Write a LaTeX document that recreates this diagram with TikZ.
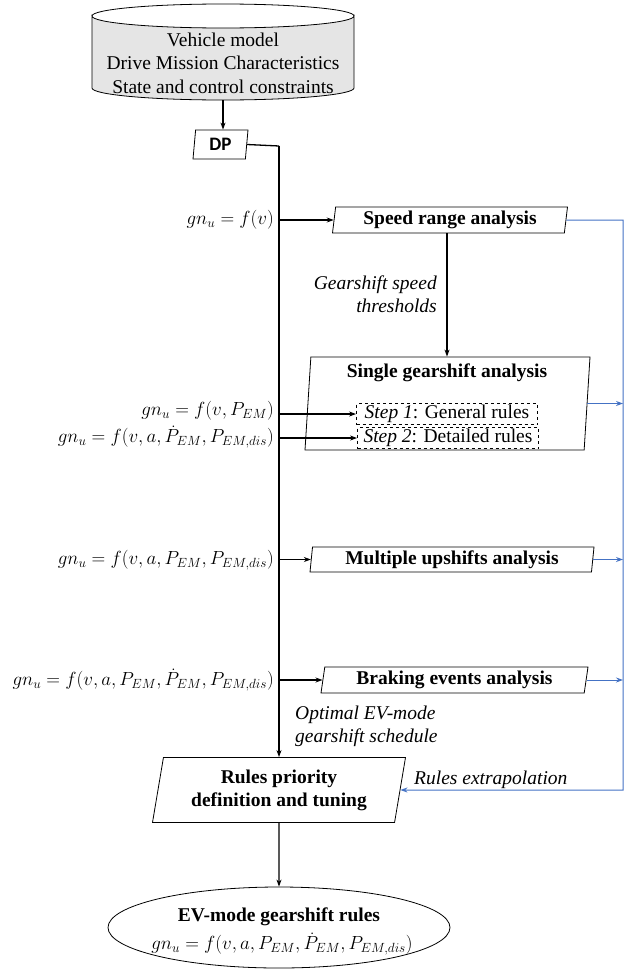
\RequirePackage{fix-cm}
\documentclass[tikz,border=0pt]{standalone}
\usepackage{fontspec}
\setmainfont{Liberation Serif}
\newfontfamily\dpfont{Carlito}
\usetikzlibrary{shapes.geometric,arrows.meta}
\definecolor{linkblue}{HTML}{4472C4}

\begin{document}
\begin{tikzpicture}[x=1pt,y=-1pt,
  font=\fontsize{19.5}{23.5}\selectfont,
  para/.style={trapezium,draw,line width=.8pt,trapezium left angle=#1,
    trapezium right angle=180-#1,trapezium stretches body=true,inner sep=0pt,align=center},
  blk/.style={line width=1.3pt,-{Stealth[length=7pt,width=5pt]}},
  blu/.style={draw=linkblue,line width=1pt,-{Stealth[length=7pt,width=5pt]}},
  eqn/.style={anchor=east,inner sep=0pt,font=\fontsize{19}{22}\selectfont},
  note/.style={font=\fontsize{19.5}{23}\selectfont\itshape,inner sep=0pt},
  stepbox/.style={draw,dashed,line width=.8pt,minimum width=181pt,minimum height=21pt,inner sep=0pt}]

\useasboundingbox (0,0) rectangle (625,969);

% inputs and DP
\draw[line width=.8pt,fill=gray!20] (92,16) -- (92,88) arc[start angle=180,end angle=0,x radius=131,y radius=12]
  -- (354,16) arc[start angle=0,end angle=180,x radius=131,y radius=12] -- cycle;
\draw[line width=.8pt] (92,16) arc[start angle=180,end angle=360,x radius=131,y radius=12];
\node[align=center,inner sep=0pt] (db) at (223,63) {Vehicle model\\Drive Mission Characteristics\\State and control constraints};
\coordinate (dbb) at (223,100);
\node[para=78,minimum width=55pt,minimum height=29pt,font=\fontsize{19}{23}\dpfont\bfseries] (dp) at (220.5,144.5) {DP};
\draw[blk] (dbb) -- (dbb |- dp.north);

\coordinate (bus) at (279,146);
\coordinate (rail) at (623,220);

% analysis boxes
\node[para=80,minimum width=235pt,minimum height=26pt,font=\fontsize{19.5}{23}\selectfont\bfseries] (spd) at (450,220) {Speed range analysis};
\node[para=76,minimum width=285pt,minimum height=93pt] (single) at (447.5,403.5) {\strut};
\node[font=\fontsize{19.5}{23}\selectfont\bfseries] (sgl) at (447,373) {Single gearshift analysis};
\node[stepbox] (st1) at (447,414) {\textit{Step 1}: General rules};
\node[stepbox] (st2) at (448,438) {\textit{Step 2}: Detailed rules};
\node[para=82,minimum width=284pt,minimum height=25pt,font=\fontsize{19.5}{23}\selectfont\bfseries] (mult) at (452,559.5) {Multiple upshifts analysis};
\node[para=78,minimum width=267pt,minimum height=26pt,font=\fontsize{19.5}{23}\selectfont\bfseries] (brk) at (454.5,680) {Braking events analysis};
\node[para=75,minimum width=253pt,minimum height=65pt,font=\fontsize{19.5}{23}\selectfont\bfseries] (rules) at (279,790) {Rules priority\\definition and tuning};

% result
\node[ellipse,draw,line width=.8pt,minimum width=342pt,minimum height=81pt,inner sep=0pt] (out) at (279,927.5) {};
\node[font=\fontsize{19.5}{23}\selectfont\bfseries] (outt) at (279,917) {EV-mode gearshift rules};
\node[eqn,anchor=center] (oute) at (282,944) {$gn_u=f\bigl(v,a,P_{EM},\dot P_{EM},P_{EM,dis}\bigr)$};

% equations
\node[eqn] (e1) at (274,220) {$gn_u=f(v)$};
\node[eqn] (e2) at (274,411) {$gn_u=f(v,P_{EM})$};
\node[eqn] (e3) at (274,437) {$gn_u=f(v,a,\dot P_{EM},P_{EM,dis})$};
\node[eqn] (e4) at (274,560) {$gn_u=f\bigl(v,a,P_{EM},P_{EM,dis}\bigr)$};
\node[eqn] (e5) at (274,680) {$gn_u=f\bigl(v,a,P_{EM},\dot P_{EM},P_{EM,dis}\bigr)$};

% notes
\node[note,align=right,anchor=east] (thr) at (437,294) {Gearshift speed\\thresholds};
\node[note,align=left,anchor=west] (opt) at (295,726) {Optimal EV-mode\\gearshift schedule};
\node[note,anchor=west] (ext) at (414,780) {Rules extrapolation};

% black connectors
\draw[line width=1.3pt] (dp.east) -- (bus);
\draw[blk] (bus) -- (bus |- rules.north);
\draw[blk] (bus |- spd.west) -- (spd.west);
\draw[blk] (bus |- st1.west) -- (st1.west);
\draw[blk] (bus |- st2.west) -- (st2.west);
\draw[blk] (bus |- mult.west) -- (mult.west);
\draw[blk] (bus |- brk.west) -- (brk.west);
\draw[blk] (sgl.north |- spd.south) -- (sgl.north |- single.north);
\draw[blk] (rules.south) -- (out.north);

% blue feedback
\draw[blu] (spd.east) -- (rail) |- (rules.east);
\draw[blu] (single.east) -- (single.east -| rail);
\draw[blu] (mult.east) -- (mult.east -| rail);
\draw[blu] (brk.east) -- (brk.east -| rail);

\end{tikzpicture}
\end{document}
